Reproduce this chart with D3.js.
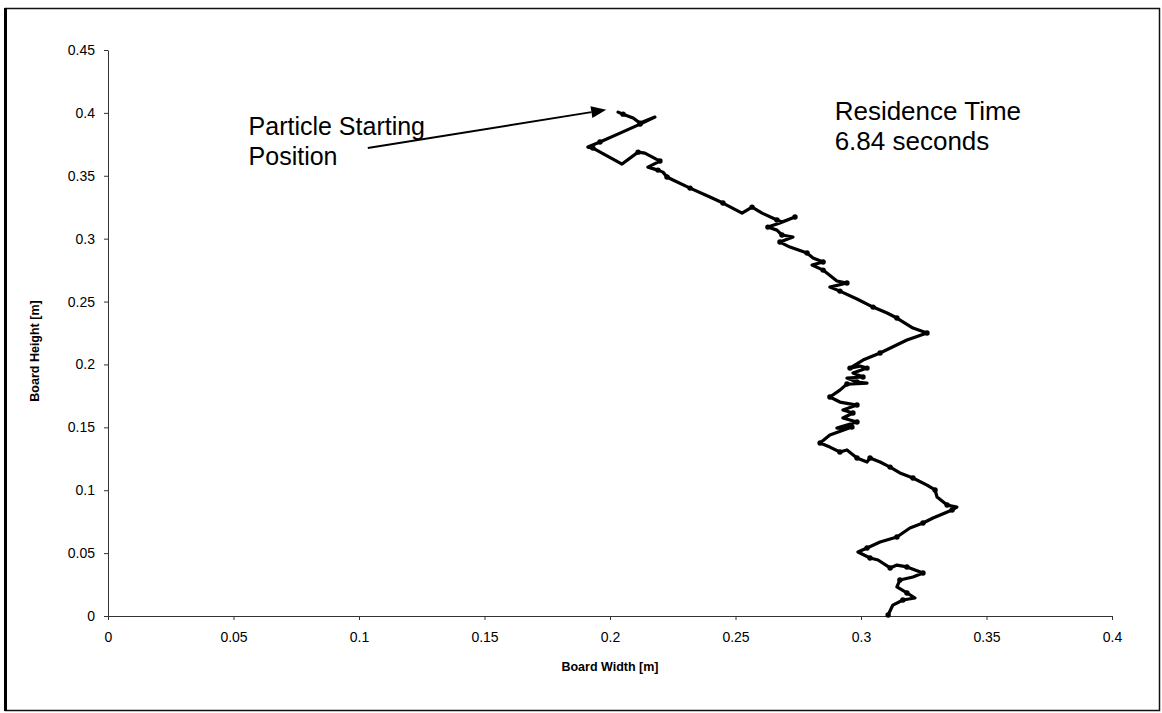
<!DOCTYPE html>
<html>
<head>
<meta charset="utf-8">
<script src="https://cdn.jsdelivr.net/npm/d3@7"></script>
<style>
  html, body { margin: 0; padding: 0; background: #fff; }
  svg { display: block; font-family: "Liberation Sans", Arial, sans-serif; }
</style>
</head>
<body>
<svg id="chart" width="1162" height="713"></svg>
<script>
// Particle track across the board: width (m) and height (m)
const trackX = [
  0.2032, 0.2052, 0.2092, 0.2120, 0.2179, 0.2120, 0.2040, 0.1960, 0.1912, 0.1932,
  0.2048, 0.2112, 0.2139, 0.2199, 0.2151, 0.2191, 0.2211, 0.2227, 0.2251, 0.2319,
  0.2398, 0.2450, 0.2526, 0.2566, 0.2606, 0.2665, 0.2685, 0.2737, 0.2677, 0.2629,
  0.2665, 0.2685, 0.2729, 0.2677, 0.2717, 0.2785, 0.2809, 0.2849, 0.2805, 0.2849,
  0.2904, 0.2944, 0.2876, 0.2916, 0.2984, 0.3048, 0.3104, 0.3143, 0.3207, 0.3263,
  0.3183, 0.3076, 0.3008, 0.2956, 0.2996, 0.3024, 0.2968, 0.3008, 0.2944, 0.2984,
  0.3024, 0.2944, 0.2916, 0.2876, 0.2916, 0.2984, 0.2928, 0.2968, 0.2928, 0.2984,
  0.2904, 0.2964, 0.2876, 0.2837, 0.2876, 0.2916, 0.2944, 0.2984, 0.3024, 0.3036,
  0.3076, 0.3116, 0.3155, 0.3207, 0.3263, 0.3295, 0.3303, 0.3343, 0.3382, 0.3363,
  0.3287, 0.3247, 0.3195, 0.3143, 0.3076, 0.3024, 0.2988, 0.3036, 0.3068, 0.3116,
  0.3143, 0.3183, 0.3215, 0.3247, 0.3207, 0.3155, 0.3143, 0.3183, 0.3215, 0.3167,
  0.3127, 0.3108
];
const trackY = [
  0.4006, 0.3990, 0.3959, 0.3919, 0.3967, 0.3911, 0.3839, 0.3768, 0.3728, 0.3720,
  0.3593, 0.3688, 0.3680, 0.3617, 0.3569, 0.3545, 0.3529, 0.3490, 0.3466, 0.3402,
  0.3331, 0.3283, 0.3203, 0.3251, 0.3203, 0.3148, 0.3132, 0.3172, 0.3124, 0.3092,
  0.3068, 0.3029, 0.3013, 0.2973, 0.2933, 0.2886, 0.2846, 0.2814, 0.2790, 0.2750,
  0.2663, 0.2647, 0.2615, 0.2583, 0.2520, 0.2456, 0.2409, 0.2369, 0.2289, 0.2250,
  0.2194, 0.2091, 0.2035, 0.1971, 0.1987, 0.1971, 0.1932, 0.1900, 0.1892, 0.1860,
  0.1852, 0.1844, 0.1796, 0.1741, 0.1701, 0.1677, 0.1638, 0.1614, 0.1574, 0.1542,
  0.1494, 0.1502, 0.1439, 0.1375, 0.1343, 0.1304, 0.1320, 0.1256, 0.1224, 0.1256,
  0.1224, 0.1184, 0.1137, 0.1097, 0.1041, 0.1002, 0.0946, 0.0882, 0.0866, 0.0843,
  0.0779, 0.0739, 0.0700, 0.0628, 0.0588, 0.0541, 0.0509, 0.0461, 0.0445, 0.0382,
  0.0405, 0.0390, 0.0366, 0.0342, 0.0310, 0.0286, 0.0231, 0.0183, 0.0143, 0.0127,
  0.0087, 0.0008
];

const xTicks = [0, 0.05, 0.1, 0.15, 0.2, 0.25, 0.3, 0.35, 0.4];
const yTicks = [0, 0.05, 0.1, 0.15, 0.2, 0.25, 0.3, 0.35, 0.4, 0.45];

const xTitle = "Board Width [m]";
const yTitle = "Board Height [m]";
const noteStart = ["Particle Starting", "Position"];
const noteTime = ["Residence Time", "6.84 seconds"];

const svg = d3.select("#chart");

const x = d3.scaleLinear().domain([0, 0.4]).range([108, 1112]);
const y = d3.scaleLinear().domain([0, 0.45]).range([616, 50]);

// outer frame
svg.append("rect")
  .attr("x", 5.5).attr("y", 8.5).attr("width", 1154).attr("height", 702)
  .attr("fill", "none").attr("stroke", "#111").attr("stroke-width", 1.5);
svg.append("line")
  .attr("x1", 5.5).attr("x2", 5.5).attr("y1", 8).attr("y2", 711)
  .attr("stroke", "#000").attr("stroke-width", 3);

// axes
const fmt = d => String(+d.toFixed(2));
const xAxis = d3.axisBottom(x).tickValues(xTicks).tickFormat(fmt)
  .tickSizeInner(4).tickSizeOuter(0).tickPadding(12);
const yAxis = d3.axisLeft(y).tickValues(yTicks).tickFormat(fmt)
  .tickSizeInner(4).tickSizeOuter(0).tickPadding(9);

const gx = svg.append("g").attr("transform", `translate(0,${y(0)})`).call(xAxis);
const gy = svg.append("g").attr("transform", `translate(${x(0)},0)`).call(yAxis);
[gx, gy].forEach(g => {
  g.select(".domain").attr("stroke", "#333").attr("stroke-width", 1);
  g.selectAll(".tick line").attr("stroke", "#333");
  g.selectAll(".tick text")
    .attr("fill", "#000")
    .style("font-size", "14px")
    .style("font-family", '"Liberation Sans", Arial, sans-serif');
});

// axis titles
svg.append("text")
  .attr("x", (x(0) + x(0.4)) / 2).attr("y", 671)
  .attr("text-anchor", "middle")
  .style("font-size", "12.5px").style("font-weight", "bold")
  .text(xTitle);
svg.append("text")
  .attr("transform", `translate(39,${(y(0) + y(0.45)) / 2 + 18}) rotate(-90)`)
  .attr("text-anchor", "middle")
  .style("font-size", "12.5px").style("font-weight", "bold")
  .text(yTitle);

// particle track
const pts = trackX.map((v, i) => [v, trackY[i]]);
const line = d3.line().x(d => x(d[0])).y(d => y(d[1]));
svg.append("path")
  .datum(pts)
  .attr("d", line)
  .attr("fill", "none")
  .attr("stroke", "#000")
  .attr("stroke-width", 3.2)
  .attr("stroke-linejoin", "round")
  .attr("stroke-linecap", "round");
svg.append("g").selectAll("circle")
  .data(pts.filter((d, i) => i % 2 === 1))
  .join("circle")
  .attr("cx", d => x(d[0])).attr("cy", d => y(d[1]))
  .attr("r", 2.7).attr("fill", "#000");

// arrow to the starting point
const tail = [x(0.1035), y(0.372)];
const tip = [x(0.1985), y(0.4025)];

// annotations
svg.append("text")
  .style("font-size", "25px")
  .selectAll("tspan").data(noteStart).join("tspan")
  .attr("x", x(0.056))
  .attr("y", (d, i) => tail[1] - 13 + i * 30)
  .text(d => d);

svg.append("text")
  .style("font-size", "26px")
  .selectAll("tspan").data(noteTime).join("tspan")
  .attr("x", x(0.2895))
  .attr("y", (d, i) => y(0.4017) + 9 + i * 30)
  .text(d => d);

const ang = Math.atan2(tip[1] - tail[1], tip[0] - tail[0]);
const headLen = 15, headW = 6;
const base = [tip[0] - headLen * Math.cos(ang), tip[1] - headLen * Math.sin(ang)];
svg.append("line")
  .attr("x1", tail[0]).attr("y1", tail[1])
  .attr("x2", base[0]).attr("y2", base[1])
  .attr("stroke", "#000").attr("stroke-width", 2);
svg.append("path")
  .attr("d", d3.line()([
    tip,
    [base[0] + headW * Math.sin(ang), base[1] - headW * Math.cos(ang)],
    [base[0] - headW * Math.sin(ang), base[1] + headW * Math.cos(ang)]
  ]) + "Z")
  .attr("fill", "#000");
</script>
</body>
</html>
